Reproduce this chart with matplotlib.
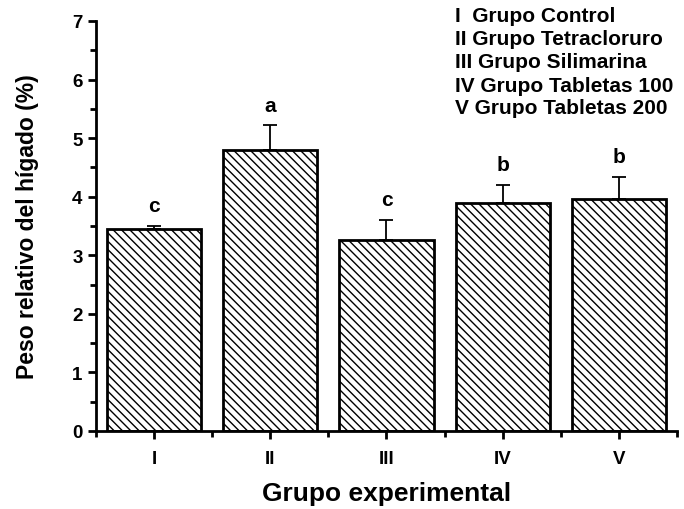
import matplotlib
matplotlib.use("Agg")
import matplotlib.pyplot as plt
from matplotlib.ticker import MultipleLocator, FixedLocator

plt.rcParams['font.family'] = ['Liberation Sans', 'DejaVu Sans']
plt.rcParams['font.weight'] = 'bold'
plt.rcParams['hatch.linewidth'] = 1.0

categories = ['I', 'II', 'III', 'IV', 'V']
values = [3.45, 4.79, 3.26, 3.89, 3.96]
errors = [0.05, 0.43, 0.35, 0.31, 0.38]
letters = ['c', 'a', 'c', 'b', 'b']
legend_lines = ['I  Grupo Control', 'II Grupo Tetracloruro', 'III Grupo Silimarina',
                'IV Grupo Tabletas 100', 'V Grupo Tabletas 200']

fig = plt.figure(figsize=(6.84, 5.10), dpi=100)
ax = fig.add_axes([0.140, 0.153, 0.850, 0.804])

x = list(range(len(categories)))
ax.bar(x, values, width=0.81, color='white', edgecolor='black', linewidth=2,
       hatch='\\\\\\\\', zorder=2)
ax.errorbar(x, values, yerr=[[0]*len(errors), errors], fmt='none', ecolor='black',
            elinewidth=1.3, capsize=5, capthick=1.3, zorder=1)

for xi, v, e, l in zip(x, values, errors, letters):
    ax.text(xi, v + e + 0.18, l, ha='center', va='bottom', fontsize=15, fontweight='bold')

ax.set_xlim(-0.5, 4.5)
ax.set_ylim(0, 7)
ax.set_xticks(x)
ax.set_xticklabels(categories, fontsize=13.5, fontweight='bold')
ax.xaxis.set_minor_locator(FixedLocator([-0.5, 0.5, 1.5, 2.5, 3.5, 4.5]))
ax.yaxis.set_major_locator(MultipleLocator(1))
ax.yaxis.set_minor_locator(MultipleLocator(0.5))
ax.tick_params(axis='both', which='major', direction='out', length=6, width=2, labelsize=13.5)
ax.tick_params(axis='both', which='minor', direction='out', length=4, width=2)
ax.tick_params(axis='x', pad=8)
for lab in ax.get_yticklabels():
    lab.set_fontweight('bold')

for s in ['top', 'right']:
    ax.spines[s].set_visible(False)
for s in ['left', 'bottom']:
    ax.spines[s].set_linewidth(2)

ax.set_ylabel('Peso relativo del hígado (%)', fontsize=16.5, fontweight='bold', labelpad=24)
ax.set_xlabel('Grupo experimental', fontsize=19, fontweight='bold', labelpad=10)

for i, t in enumerate(legend_lines):
    fig.text(455/684, 1 - (17 + 23*i)/510, t, ha='left', va='center', fontsize=15, fontweight='bold')

fig.savefig('out.png', dpi=100)
